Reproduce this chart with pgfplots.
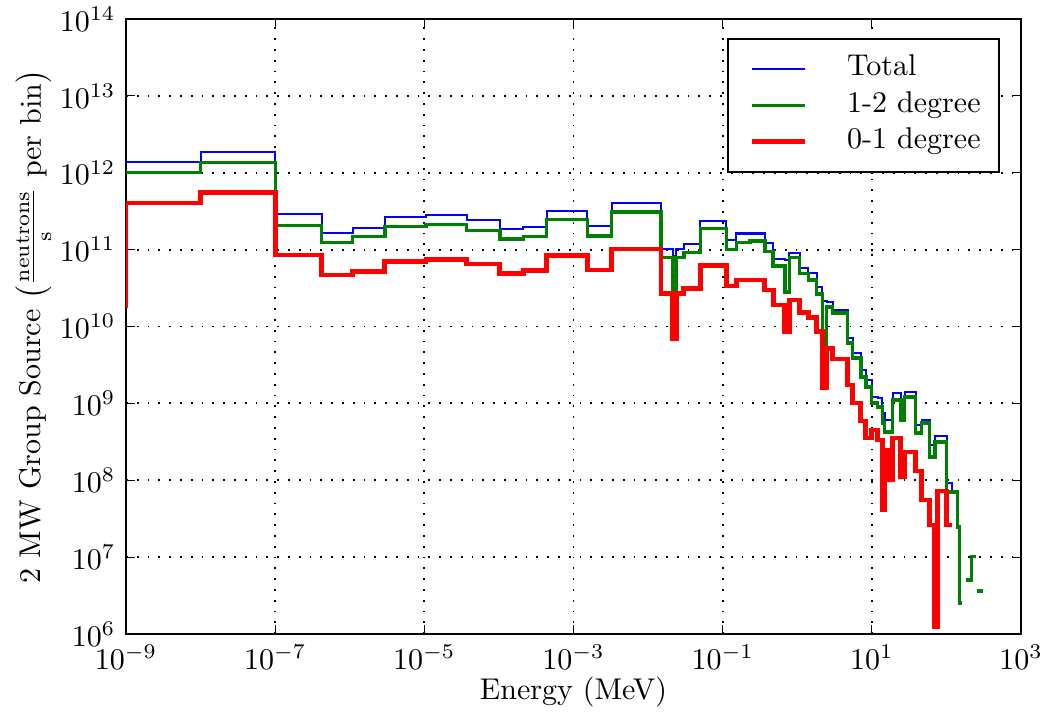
\documentclass[border=0pt]{standalone}
\usepackage{pgfplots}
\pgfplotsset{compat=1.18}
\pgfplotsset{myleg/.style={legend image code/.code={%
  \path[draw=none] (0pt,0pt) -- (2.7pt,0pt);
  \draw[##1] (2.7pt,0pt) -- (20.4pt,0pt);
  \path[draw=none] (20.4pt,0pt) -- (33.5pt,0pt);}}}
\begin{document}
\begin{tikzpicture}
\begin{axis}[
  scale only axis, width=298.33pt, height=205pt,
  xmode=log, ymode=log,
  xmin=1e-9, xmax=1e3, ymin=1e6, ymax=1e14,
  xtick={1e-9,1e-7,1e-5,1e-3,1e-1,1e1,1e3},
  ytick={1e6,1e7,1e8,1e9,1e10,1e11,1e12,1e13,1e14},
  xminorticks=false, yminorticks=false,
  tick align=inside, major tick length=3pt,
  every tick/.style={black, line width=0.4pt},
  grid=major,
  major grid style={black, line width=0.6pt, dash pattern=on 0.6pt off 3pt},
  axis line style={line width=0.7pt},
  xlabel={Energy (MeV)},
  xlabel shift=-4.3pt,
  ylabel={2 MW Group Source $\left(\frac{\mathrm{neutrons}}{\mathrm{s}}\ \mathrm{per\ bin}\right)$},
  ylabel shift=-4pt,
  unbounded coords=jump,
  legend cell align=left,
  legend style={at={(0.9765,0.969)}, anchor=north east, draw=black, line width=0.7pt,
    inner xsep=5pt, inner ysep=4pt,
    nodes={inner sep=1.1pt, text height=0.72em, text depth=0.27em}},
]
\addplot[blue, line width=0.67pt, const plot mark right, myleg] table {
1e-9 1.38e12
1e-8 1.38e12
1e-7 1.88e12
4.2e-7 2.90e11
1.10e-6 1.66e11
2.96e-6 1.93e11
1.05e-5 2.63e11
3.69e-5 2.84e11
1.03e-4 2.43e11
2.12e-4 1.87e11
4.36e-4 1.95e11
1.53e-3 3.21e11
3.25e-3 2.05e11
1.49e-2 4.07e11
2.15e-2 1.01e11
2.39e-2 8.38e10
3.02e-2 1.01e11
5.02e-2 1.18e11
0.112 2.39e11
0.153 1.33e11
0.232 1.62e11
0.368 1.62e11
0.475 1.21e11
0.682 7.48e10
0.783 7.33e10
1.08 9.12e10
1.40 5.77e10
1.83 4.97e10
2.17 3.31e10
2.49 2.15e10
3.00 2.08e10
4.76 1.64e10
5.56 7.08e9
7.13 4.52e9
8.32 2.72e9
10.0 2.01e9
12.0 1.21e9
13.8 1.17e9
14.9 7.50e8
16.4 6.08e8
19.1 6.08e8
24.5 1.36e9
27.7 7.50e8
38.9 1.41e9
46.8 5.24e8
59.8 6.08e8
70.0 2.88e8
76.7 3.77e8
101 3.77e8
118 9.23e7
142 7.26e7
151 2.47e7
161 2.54e6
nan nan
182 5.05e6
217 5.05e6
248 1.01e7
nan nan
254 3.64e6
305 3.64e6
};
\addlegendentry{Total}
\addplot[color={rgb,1:red,0;green,0.5;blue,0}, line width=1.1pt, const plot mark right, myleg] table {
1e-9 1.0e12
1e-8 1.0e12
1e-7 1.35e12
4.2e-7 2.05e11
1.10e-6 1.23e11
2.96e-6 1.47e11
1.05e-5 2.01e11
3.69e-5 2.13e11
1.03e-4 1.76e11
2.12e-4 1.37e11
4.36e-4 1.47e11
1.53e-3 2.48e11
3.25e-3 1.50e11
1.49e-2 3.08e11
2.15e-2 7.89e10
2.39e-2 2.85e10
3.02e-2 7.95e10
5.02e-2 9.12e10
0.112 1.87e11
0.153 1.01e11
0.232 1.23e11
0.368 1.29e11
0.475 9.44e10
0.682 6.12e10
0.783 2.81e10
1.08 7.89e10
1.40 4.89e10
1.83 4.03e10
2.17 2.65e10
2.49 5.74e9
3.00 1.79e10
4.76 1.50e10
5.56 6.10e9
7.13 3.89e9
8.32 2.20e9
10.0 1.63e9
12.0 1.01e9
13.8 8.98e8
14.9 5.56e8
16.4 4.25e8
19.1 4.25e8
24.5 1.11e9
27.7 6.08e8
38.9 1.21e9
46.8 4.12e8
59.8 5.56e8
70.0 2.01e8
76.7 3.15e8
101 3.15e8
118 7.05e7
142 7.05e7
151 2.47e7
161 2.54e6
nan nan
182 5.05e6
217 5.05e6
248 1.01e7
nan nan
254 3.64e6
305 3.64e6
};
\addlegendentry{1-2 degree}
\addplot[red, line width=1.6pt, const plot mark right, myleg] table {
1e-9 1.74e10
1e-8 4.04e11
1e-7 5.50e11
4.2e-7 8.51e10
1.10e-6 4.68e10
2.96e-6 5.16e10
1.05e-5 6.96e10
3.69e-5 7.48e10
1.03e-4 6.50e10
2.12e-4 4.92e10
4.36e-4 5.32e10
1.53e-3 8.34e10
3.25e-3 5.43e10
1.49e-2 1.02e11
2.15e-2 2.69e10
2.39e-2 6.88e9
3.02e-2 2.71e10
5.02e-2 3.10e10
0.112 6.15e10
0.153 3.36e10
0.232 4.03e10
0.368 4.03e10
0.475 2.98e10
0.682 1.90e10
0.783 8.56e9
1.08 2.21e10
1.40 1.51e10
1.83 1.32e10
2.17 8.56e9
2.49 1.58e9
3.00 5.21e9
4.76 3.78e9
5.56 1.73e9
7.13 1.01e9
8.32 5.90e8
10.0 3.55e8
12.0 4.51e8
13.8 3.34e8
14.9 4.11e7
16.4 2.48e8
19.1 1.01e8
24.5 3.55e8
27.7 1.10e8
38.9 2.33e8
46.8 1.32e8
59.8 5.55e7
70.0 2.62e7
76.7 1.24e6
101 7.26e7
118 2.62e7
};
\addlegendentry{0-1 degree}
\end{axis}
\pgfresetboundingbox
\path ([shift={(-42pt,-27pt)}]current axis.south west) rectangle ++(347.33pt,238.33pt);
\end{tikzpicture}
\end{document}
